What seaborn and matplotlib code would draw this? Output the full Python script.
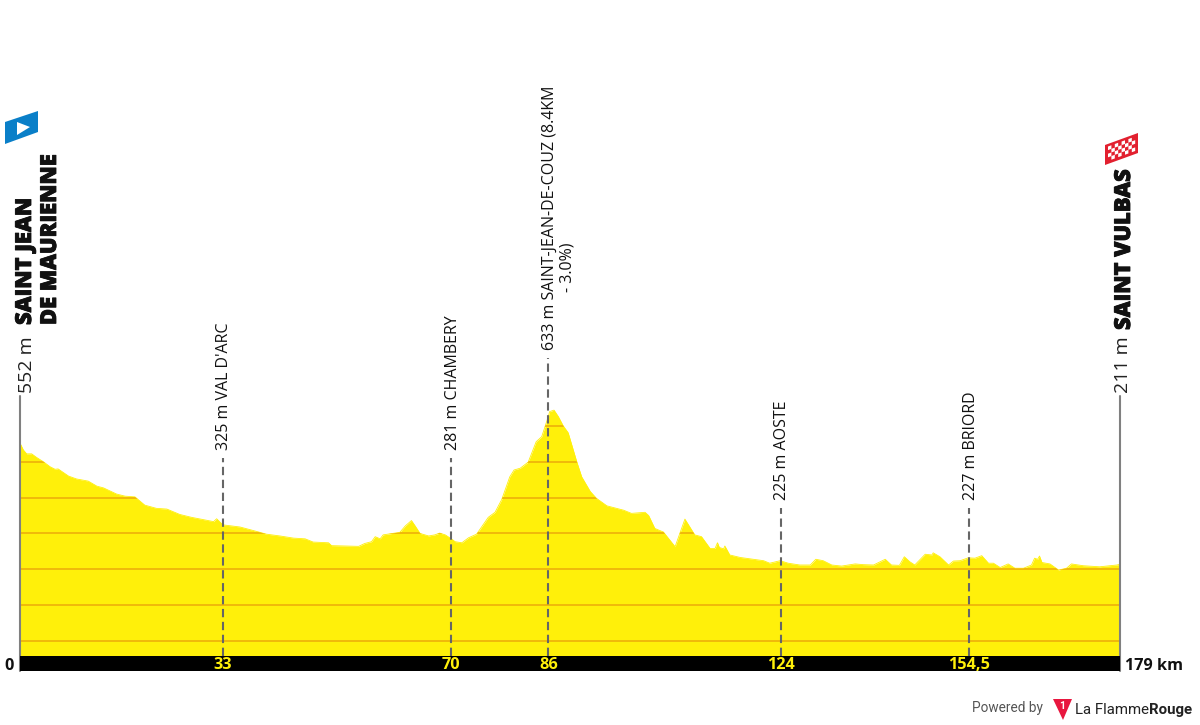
import matplotlib
matplotlib.use("Agg")
import matplotlib.pyplot as plt
import matplotlib.patheffects as pe
import numpy as np
import pandas as pd
import seaborn as sns
from matplotlib.path import Path
from matplotlib.patches import Polygon

km = [0, .54, 1.08, 1.9, 2.7, 3.8, 4.9, 5.7, 6.2, 7.9, 9.2, 11.1, 12.5, 13.6, 15.7, 17.1, 18.7, 20.3, 22.2, 23.9,
      26.0, 27.9, 31.5, 32.0, 33.0, 35.8, 38.0, 40.1, 42.3, 44.5, 46.4, 47.7, 50.2, 50.7, 55.1, 56.1, 57.2, 57.8,
      58.6, 59.1, 60.2, 61.8, 62.7, 63.7, 64.3, 65.1, 66.5, 67.5, 68.3, 69.2, 70.2, 70.8, 71.9, 73.0, 74.3, 76.2,
      77.3, 78.4, 79.7, 80.4, 81.4, 82.7, 84.0, 84.9, 85.7, 86.2, 86.9, 87.6, 88.4, 89.2, 90.6, 91.4, 92.8, 93.8,
      95.5, 98.2, 99.5, 101.7, 102.3, 103.3, 104.7, 106.6, 108.2, 109.8, 110.9, 112.3, 113.1, 113.5, 113.8, 114.5,
      114.7, 115.5, 117.2, 121.0, 122.0, 123.7, 125.0, 126.9, 128.6, 129.5, 130.7, 132.1, 133.7, 135.9, 137.2,
      138.9, 140.8, 141.8, 143.1, 143.9, 144.8, 145.6, 147.3, 148.4, 148.6, 149.7, 151.1, 151.9, 153.0, 154.3,
      155.4, 156.5, 157.6, 158.4, 159.5, 160.8, 161.9, 163.3, 164.6, 165.1, 165.6, 165.9, 166.3, 167.6, 169.0,
      170.3, 171.1, 173.0, 175.7, 178.5, 179.0]
altitude = [552, 533, 522, 522, 512, 500, 486, 479, 480, 460, 452, 446, 432, 427, 410, 404, 402, 379, 370, 368,
            353, 345, 333, 341, 324, 318, 308, 298, 293, 287, 285, 276, 274, 266, 264, 272, 277, 291,
            285, 296, 299, 303, 321, 336, 321, 300, 293, 296, 301, 296, 285, 277, 274, 288, 298, 345,
            359, 395, 458, 477, 482, 499, 556, 570, 612, 640, 644, 626, 600, 581, 500, 458, 417, 398,
            377, 365, 356, 359, 350, 314, 304, 263, 340, 296, 291, 258, 258, 274, 261, 257,
            265, 240, 233, 224, 217, 224, 217, 212, 212, 228, 224, 212, 209, 215, 213,
            212, 228, 212, 211, 235, 221, 212, 242, 240, 246, 235, 212, 223, 224, 232,
            231, 238, 217, 217, 205, 215, 203, 203, 212, 231, 228, 237, 219, 215, 198,
            203, 215, 210, 207, 212, 214]
grid_levels = [0, 100, 200, 300, 400, 500, 600]
mark_pos = [33, 70.2, 86, 123.8, 154.5]
mark_ticks = ["33", "70", "86", "124", "154,5"]
mark_labels = ["325 m VAL D'ARC", "281 m CHAMBERY", "633 m SAINT-JEAN-DE-COUZ (8.4KM", "225 m AOSTE", "227 m BRIORD"]
mark_tops = [510, 510, 789, 371, 371]

YELLOW = "#FFF00A"
GRID = "#F0B90A"
FONT = "Open Sans"
PXK, PXM = 1100 / 179, 0.3585


def X(px):
    return (px - 20) / PXK


def Y(py):
    return (641 - py) / PXM


sns.set_theme(style="white", rc={"font.family": FONT})
fig = plt.figure(figsize=(12, 7.25), dpi=100)
ax = fig.add_axes([0, 0, 1, 1])
ax.axis("off")

df = pd.DataFrame({"km": km, "altitude": altitude})
base = Y(656)
poly = ax.fill_between(df["km"], df["altitude"], base, color=YELLOW, lw=0, zorder=1)
sns.lineplot(data=df, x="km", y="altitude", ax=ax, color=YELLOW, lw=0.6, sort=False, estimator=None, zorder=1)
ax.set_xlim(X(0), X(1200))
ax.set_ylim(Y(725), Y(0))

grid = ax.hlines(grid_levels, 0, 179, color=GRID, lw=1.4, zorder=2)
clip = Path(poly.get_paths()[0].vertices, poly.get_paths()[0].codes)
grid.set_clip_path(clip, ax.transData)

# distance bar
ax.fill_between([0, 179], Y(671), Y(656), color="black", lw=0, zorder=3)

# end posts
ax.plot([0, 0], [Y(671), Y(396)], color="#808080", lw=1.5, zorder=2)
ax.plot([179, 179], [Y(671), Y(396)], color="#808080", lw=1.5, zorder=2)

# dashed markers and labels
for p, t, lab, top in zip(mark_pos, mark_ticks, mark_labels, mark_tops):
    ax.plot([p, p], [base, top], color="#666666", lw=1.5, dashes=(4, 2.2), zorder=4)
    ax.text(p + 1.5 / PXK, top + 22, lab, rotation=90, ha="center", va="bottom",
            fontsize=11.5, color="#111111", family=FONT, zorder=5)
    ax.text(p, Y(665), t, ha="center", va="center", color=YELLOW, fontsize=11.7, fontweight="bold",
            family=FONT, zorder=5)
ax.text(X(568), Y(292), "- 3.0%)", rotation=90, ha="center", va="bottom", fontsize=11.5, color="#111111", family=FONT)

# start and finish
heavy = [pe.withStroke(linewidth=0.6, foreground="#111111")]
ax.text(X(26.5), Y(393), "552 m", rotation=90, ha="center", va="bottom", fontsize=14, color="#222222", family=FONT)
ax.text(X(25), Y(325), "SAINT JEAN", rotation=90, ha="center", va="bottom", fontsize=15.8,
        fontweight="heavy", color="#111111", family=FONT, path_effects=heavy)
ax.text(X(50), Y(325), "DE MAURIENNE", rotation=90, ha="center", va="bottom", fontsize=15.8,
        fontweight="heavy", color="#111111", family=FONT, path_effects=heavy)
ax.text(X(1123), Y(393), "211 m", rotation=90, ha="center", va="bottom", fontsize=14, color="#222222", family=FONT)
ax.text(X(1124), Y(330), "SAINT VULBAS", rotation=90, ha="center", va="bottom", fontsize=15.8,
        fontweight="heavy", color="#111111", family=FONT, path_effects=heavy)
ax.text(X(9), Y(666), "0", ha="center", va="center", fontsize=11.7, fontweight="bold", color="#111111", family=FONT)
ax.text(X(1125), Y(666), "179 km", ha="left", va="center", fontsize=11.7, fontweight="bold", color="#111111", family=FONT)


def quad(pts, color, z=6):
    ax.add_patch(Polygon([(X(a), Y(b)) for a, b in pts], closed=True, fc=color, ec="none", zorder=z))


# start flag
quad([(5, 122), (38, 111), (38, 132), (5, 144)], "#0A7FC8")
quad([(17, 122), (17, 135), (30, 127)], "white", 7)

# finish flag
quad([(1105, 145), (1138, 133), (1138, 153), (1105, 165)], "#E2202F")
nx, ny = 8, 4
w, s, h = 3.4, 1.24, 3.6
for i in range(nx):
    for j in range(ny):
        if (i + j) % 2 == 0:
            x0 = 1108 + i * w
            y0 = 146.5 - i * s + j * h
            quad([(x0, y0), (x0 + w, y0 - s), (x0 + w, y0 - s + h), (x0, y0 + h)], "white", 7)

# credit
ax.text(X(972), Y(712), "Powered by", ha="left", va="baseline", fontsize=9.8, color="#555555", family="Roboto")
quad([(1053, 699), (1072, 699), (1063, 720)], "#E8173F")
ax.text(X(1062.5), Y(706), "1", ha="center", va="center", fontsize=7.5, color="white", fontweight="bold", family="Roboto", zorder=7)
ax.text(X(1075), Y(714), "La Flamme", ha="left", va="baseline", fontsize=10.8, color="#222222", family="Roboto")
ax.text(X(1149), Y(714), "Rouge", ha="left", va="baseline", fontsize=10.8, color="#222222",
        fontweight="bold", family="Roboto")

fig.savefig("out.png", dpi=100, facecolor="white")
